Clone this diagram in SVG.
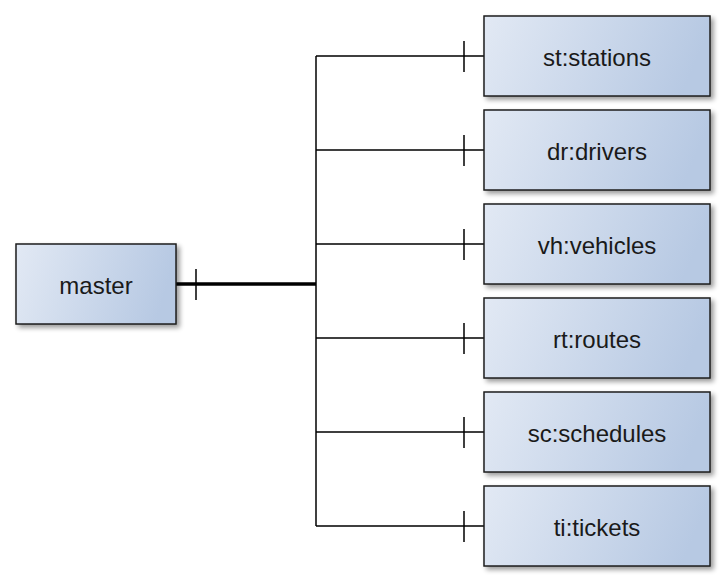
<svg xmlns="http://www.w3.org/2000/svg" width="726" height="582" viewBox="0 0 726 582">
<defs>
<linearGradient id="g" x1="0" y1="0" x2="1" y2="0.15">
<stop offset="0" stop-color="#e2e9f4"/>
<stop offset="1" stop-color="#b7c9e3"/>
</linearGradient>
<filter id="sh" x="-10%" y="-10%" width="130%" height="140%">
<feGaussianBlur in="SourceAlpha" stdDeviation="2.5"/>
<feOffset dx="3" dy="3" result="b"/>
<feComponentTransfer><feFuncA type="linear" slope="0.4"/></feComponentTransfer>
<feMerge><feMergeNode/><feMergeNode in="SourceGraphic"/></feMerge>
</filter>
</defs>
<style>
.box{fill:url(#g);stroke:#1e1e1e;stroke-width:1.5;filter:url(#sh)}
.lbl{font-family:"Liberation Sans",Arial,sans-serif;font-size:24px;fill:#1a1a1a;text-anchor:middle;dominant-baseline:central}
.ln{stroke:#000;stroke-width:1.5;fill:none}
.thick{stroke:#000;stroke-width:3.5;fill:none}
</style>
<rect width="726" height="582" fill="#fff"/>
<g id="connectors">
<path class="thick" d="M176 284 H316"/>
<path class="ln" d="M196 269 V300"/>
<path class="ln" d="M316 56 V526"/>
<path class="ln" d="M316 56 H484 M464 41 V72"/>
<path class="ln" d="M316 150 H484 M464 135 V166"/>
<path class="ln" d="M316 244 H484 M464 229 V260"/>
<path class="ln" d="M316 338 H484 M464 323 V354"/>
<path class="ln" d="M316 432 H484 M464 417 V448"/>
<path class="ln" d="M316 526 H484 M464 511 V542"/>
</g>
<g id="master"><rect class="box" x="16" y="244" width="160" height="80"/><text class="lbl" x="96" y="285">master</text></g>
<g id="stations"><rect class="box" x="484" y="16" width="226" height="80"/><text class="lbl" x="597" y="57">st:stations</text></g>
<g id="drivers"><rect class="box" x="484" y="110" width="226" height="80"/><text class="lbl" x="597" y="151">dr:drivers</text></g>
<g id="vehicles"><rect class="box" x="484" y="204" width="226" height="80"/><text class="lbl" x="597" y="245">vh:vehicles</text></g>
<g id="routes"><rect class="box" x="484" y="298" width="226" height="80"/><text class="lbl" x="597" y="339">rt:routes</text></g>
<g id="schedules"><rect class="box" x="484" y="392" width="226" height="80"/><text class="lbl" x="597" y="433">sc:schedules</text></g>
<g id="tickets"><rect class="box" x="484" y="486" width="226" height="80"/><text class="lbl" x="597" y="527">ti:tickets</text></g>
</svg>
